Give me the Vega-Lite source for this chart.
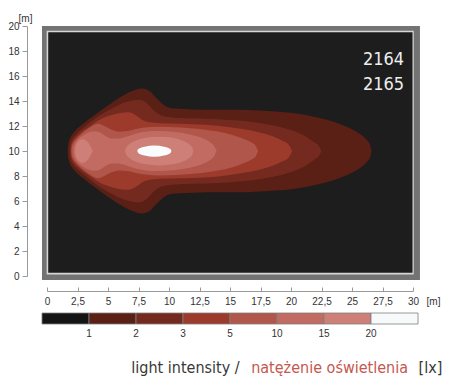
{
"$schema": "https://vega.github.io/schema/vega-lite/v6.json",
"autosize": {"type": "none"},
"padding": {"left": 47, "top": 26, "right": 52, "bottom": 114},
"width": 366,
"height": 250,
"background": "white",
"config": {"view": {"stroke": null},
 "axis": {"labelFont": "Liberation Sans", "labelFontSize": 10, "labelColor": "#333333", "domainColor": "#9a9a9a", "tickColor": "#9a9a9a", "grid": false, "labelOverlap": false, "labelFlush": false, "titleFont": "Liberation Sans", "titleFontSize": 10, "titleFontWeight": "normal", "titleColor": "#333333"},
 "axisX": {"offset": 15, "tickSize": -4, "labelPadding": 9, "titleX": 386, "titleY": 10, "titleAlign": "center", "titleBaseline": "middle"},
 "axisY": {"offset": 20, "tickSize": 5, "labelPadding": 3, "titleAngle": 0, "titleX": -2, "titleY": -8, "titleAlign": "center", "titleBaseline": "middle"}},
"datasets": {
"one": [{}],
"c1": [{"x":1.7,"lo":10,"hi":10},{"x":1.72,"lo":9.6,"hi":10.4},{"x":1.8,"lo":9.2,"hi":10.8},{"x":1.95,"lo":8.85,"hi":11.15},{"x":2.2,"lo":8.5,"hi":11.5},{"x":2.6,"lo":8.1,"hi":11.9},{"x":3.0,"lo":7.8,"hi":12.2},{"x":3.5,"lo":7.4,"hi":12.6},{"x":4.0,"lo":7.05,"hi":12.95},{"x":5.0,"lo":6.35,"hi":13.65},{"x":6.0,"lo":5.7,"hi":14.3},{"x":7.0,"lo":5.2,"hi":14.8},{"x":7.8,"lo":5.0,"hi":15.0},{"x":8.4,"lo":5.2,"hi":14.8},{"x":9.0,"lo":5.8,"hi":14.2},{"x":9.8,"lo":6.45,"hi":13.55},{"x":10.5,"lo":6.6,"hi":13.4},{"x":12,"lo":6.67,"hi":13.33},{"x":14,"lo":6.7,"hi":13.3},{"x":16,"lo":6.7,"hi":13.3},{"x":18,"lo":6.8,"hi":13.2},{"x":20,"lo":6.94,"hi":13.06},{"x":22,"lo":7.28,"hi":12.72},{"x":24,"lo":7.84,"hi":12.16},{"x":25,"lo":8.26,"hi":11.74},{"x":25.8,"lo":8.74,"hi":11.26},{"x":26.2,"lo":9.1,"hi":10.9},{"x":26.5,"lo":9.55,"hi":10.45},{"x":26.6,"lo":10,"hi":10}],
"c2": [{"x":1.85,"lo":10,"hi":10},{"x":1.87,"lo":9.65,"hi":10.35},{"x":1.95,"lo":9.3,"hi":10.7},{"x":2.1,"lo":9.0,"hi":11.0},{"x":2.4,"lo":8.65,"hi":11.35},{"x":2.8,"lo":8.3,"hi":11.7},{"x":3.3,"lo":7.9,"hi":12.1},{"x":4.0,"lo":7.35,"hi":12.65},{"x":5.0,"lo":6.75,"hi":13.25},{"x":6.0,"lo":6.25,"hi":13.75},{"x":7.0,"lo":5.95,"hi":14.05},{"x":7.6,"lo":5.9,"hi":14.1},{"x":8.2,"lo":6.2,"hi":13.8},{"x":8.8,"lo":6.8,"hi":13.2},{"x":9.5,"lo":7.2,"hi":12.8},{"x":10.5,"lo":7.33,"hi":12.67},{"x":12,"lo":7.38,"hi":12.62},{"x":14,"lo":7.45,"hi":12.55},{"x":16,"lo":7.58,"hi":12.42},{"x":18,"lo":7.85,"hi":12.15},{"x":19.5,"lo":8.17,"hi":11.83},{"x":20.5,"lo":8.5,"hi":11.5},{"x":21.3,"lo":8.89,"hi":11.11},{"x":21.9,"lo":9.3,"hi":10.7},{"x":22.3,"lo":9.63,"hi":10.37},{"x":22.5,"lo":10,"hi":10}],
"c3": [{"x":1.95,"lo":10,"hi":10},{"x":1.97,"lo":9.68,"hi":10.32},{"x":2.05,"lo":9.38,"hi":10.62},{"x":2.25,"lo":9.05,"hi":10.95},{"x":2.6,"lo":8.7,"hi":11.3},{"x":3.1,"lo":8.3,"hi":11.7},{"x":3.6,"lo":7.95,"hi":12.05},{"x":4.2,"lo":7.55,"hi":12.45},{"x":5.0,"lo":7.2,"hi":12.8},{"x":6.0,"lo":6.95,"hi":13.05},{"x":6.7,"lo":6.9,"hi":13.1},{"x":7.3,"lo":7.15,"hi":12.85},{"x":7.9,"lo":7.55,"hi":12.45},{"x":8.6,"lo":7.72,"hi":12.28},{"x":10,"lo":7.8,"hi":12.2},{"x":12,"lo":7.85,"hi":12.15},{"x":14,"lo":7.97,"hi":12.03},{"x":16,"lo":8.24,"hi":11.76},{"x":17.5,"lo":8.53,"hi":11.47},{"x":18.5,"lo":8.82,"hi":11.18},{"x":19.3,"lo":9.18,"hi":10.82},{"x":19.8,"lo":9.47,"hi":10.53},{"x":20.1,"lo":10,"hi":10}],
"c5": [{"x":2.0,"lo":10,"hi":10},{"x":2.03,"lo":9.7,"hi":10.3},{"x":2.12,"lo":9.42,"hi":10.58},{"x":2.35,"lo":9.1,"hi":10.9},{"x":2.8,"lo":8.65,"hi":11.35},{"x":3.4,"lo":8.2,"hi":11.8},{"x":3.9,"lo":7.9,"hi":12.1},{"x":4.2,"lo":7.82,"hi":12.18},{"x":4.7,"lo":8.0,"hi":12.0},{"x":5.3,"lo":8.3,"hi":11.7},{"x":5.9,"lo":8.45,"hi":11.55},{"x":6.6,"lo":8.4,"hi":11.6},{"x":7.5,"lo":8.2,"hi":11.8},{"x":9,"lo":8.05,"hi":11.95},{"x":11,"lo":8.11,"hi":11.89},{"x":12.5,"lo":8.23,"hi":11.77},{"x":14,"lo":8.44,"hi":11.56},{"x":15.2,"lo":8.71,"hi":11.29},{"x":16.2,"lo":9.06,"hi":10.94},{"x":16.8,"lo":9.34,"hi":10.66},{"x":17.1,"lo":9.57,"hi":10.43},{"x":17.3,"lo":10,"hi":10}],
"c10": [{"x":2.15,"lo":10,"hi":10},{"x":2.18,"lo":9.7,"hi":10.3},{"x":2.3,"lo":9.38,"hi":10.62},{"x":2.55,"lo":9.05,"hi":10.95},{"x":2.95,"lo":8.75,"hi":11.25},{"x":3.4,"lo":8.52,"hi":11.48},{"x":3.9,"lo":8.42,"hi":11.58},{"x":4.3,"lo":8.5,"hi":11.5},{"x":4.8,"lo":8.8,"hi":11.2},{"x":5.3,"lo":9.0,"hi":11.0},{"x":5.8,"lo":9.0,"hi":11.0},{"x":6.5,"lo":8.85,"hi":11.15},{"x":7.5,"lo":8.55,"hi":11.45},{"x":9,"lo":8.4,"hi":11.6},{"x":10.5,"lo":8.48,"hi":11.52},{"x":11.8,"lo":8.69,"hi":11.31},{"x":12.8,"lo":8.99,"hi":11.01},{"x":13.4,"lo":9.31,"hi":10.69},{"x":13.7,"lo":9.59,"hi":10.41},{"x":13.9,"lo":10,"hi":10}],
"c15": [{"piece":"a","x":2.3,"lo":10,"hi":10},{"piece":"a","x":2.36,"lo":9.6,"hi":10.4},{"piece":"a","x":2.55,"lo":9.25,"hi":10.75},{"piece":"a","x":2.9,"lo":9.05,"hi":10.95},{"piece":"a","x":3.25,"lo":9.2,"hi":10.8},{"piece":"a","x":3.55,"lo":9.6,"hi":10.4},{"piece":"a","x":3.75,"lo":10,"hi":10},{"piece":"b","x":6.4,"lo":10,"hi":10},{"piece":"b","x":6.5,"lo":9.7,"hi":10.3},{"piece":"b","x":6.8,"lo":9.41,"hi":10.59},{"piece":"b","x":7.3,"lo":9.15,"hi":10.85},{"piece":"b","x":8.0,"lo":8.96,"hi":11.04},{"piece":"b","x":9.2,"lo":8.85,"hi":11.15},{"piece":"b","x":10.4,"lo":8.96,"hi":11.04},{"piece":"b","x":11.1,"lo":9.15,"hi":10.85},{"piece":"b","x":11.6,"lo":9.41,"hi":10.59},{"piece":"b","x":11.9,"lo":9.7,"hi":10.3},{"piece":"b","x":12.0,"lo":10,"hi":10}],
"c20": [{"x":7.4,"lo":10,"hi":10},{"x":7.45,"lo":9.88,"hi":10.12},{"x":7.6,"lo":9.77,"hi":10.23},{"x":8.0,"lo":9.65,"hi":10.35},{"x":8.8,"lo":9.55,"hi":10.45},{"x":9.6,"lo":9.65,"hi":10.35},{"x":10.0,"lo":9.77,"hi":10.23},{"x":10.15,"lo":9.88,"hi":10.12},{"x":10.2,"lo":10,"hi":10}],
"legend": [{"upper":"1"},{"upper":"2"},{"upper":"3"},{"upper":"5"},{"upper":"10"},{"upper":"15"},{"upper":"20"},{"upper":"∞"}]
},
"layer": [
{"layer": [
{"data": {"name": "one"}, "mark": {"type": "rect", "fill": "#737373"},
 "encoding": {
  "x": {"datum": -0.41, "type": "quantitative", "scale": {"domain": [0, 30], "nice": false, "zero": false}, "axis": {"values": [0,2.5,5,7.5,10,12.5,15,17.5,20,22.5,25,27.5,30], "labelExpr": "replace(toString(datum.value), '.', ',')", "labelOverlap": false, "title": "[m]"}},
  "x2": {"datum": 30.57},
  "y": {"datum": -0.32, "type": "quantitative", "scale": {"domain": [0, 20], "nice": false, "zero": false}, "axis": {"values": [0,2,4,6,8,10,12,14,16,18,20], "labelOverlap": false, "title": "[m]"}},
  "y2": {"datum": 20}}},
{"data": {"name": "one"}, "mark": {"type": "rect", "fill": "#d6d6d6"},
 "encoding": {
  "x": {"datum": -0.03, "type": "quantitative", "scale": {"domain": [0, 30], "nice": false, "zero": false}, "axis": {"values": [0,2.5,5,7.5,10,12.5,15,17.5,20,22.5,25,27.5,30], "labelExpr": "replace(toString(datum.value), '.', ',')", "labelOverlap": false, "title": "[m]"}},
  "x2": {"datum": 30.06},
  "y": {"datum": 0.12, "type": "quantitative", "scale": {"domain": [0, 20], "nice": false, "zero": false}, "axis": {"values": [0,2,4,6,8,10,12,14,16,18,20], "labelOverlap": false, "title": "[m]"}},
  "y2": {"datum": 19.62}}},
{"data": {"name": "one"}, "mark": {"type": "rect", "fill": "#1d1d1d"},
 "encoding": {
  "x": {"datum": 0.1, "type": "quantitative", "scale": {"domain": [0, 30], "nice": false, "zero": false}, "axis": {"values": [0,2.5,5,7.5,10,12.5,15,17.5,20,22.5,25,27.5,30], "labelExpr": "replace(toString(datum.value), '.', ',')", "labelOverlap": false, "title": "[m]"}},
  "x2": {"datum": 29.96},
  "y": {"datum": 0.26, "type": "quantitative", "scale": {"domain": [0, 20], "nice": false, "zero": false}, "axis": {"values": [0,2,4,6,8,10,12,14,16,18,20], "labelOverlap": false, "title": "[m]"}},
  "y2": {"datum": 19.5}}},
{"data": {"name": "c1"}, "mark": {"type": "area", "interpolate": "monotone", "fill": "#5a1f15"},
 "encoding": {"x": {"field": "x", "type": "quantitative", "scale": {"domain": [0, 30], "nice": false, "zero": false}, "axis": {"values": [0,2.5,5,7.5,10,12.5,15,17.5,20,22.5,25,27.5,30], "labelExpr": "replace(toString(datum.value), '.', ',')", "labelOverlap": false, "title": "[m]"}},
  "y": {"field": "lo", "type": "quantitative", "stack": null, "scale": {"domain": [0, 20], "nice": false, "zero": false}, "axis": {"values": [0,2,4,6,8,10,12,14,16,18,20], "labelOverlap": false, "title": "[m]"}}, "y2": {"field": "hi"}}},
{"data": {"name": "c2"}, "mark": {"type": "area", "interpolate": "monotone", "fill": "#752a1f"},
 "encoding": {"x": {"field": "x", "type": "quantitative", "scale": {"domain": [0, 30], "nice": false, "zero": false}, "axis": {"values": [0,2.5,5,7.5,10,12.5,15,17.5,20,22.5,25,27.5,30], "labelExpr": "replace(toString(datum.value), '.', ',')", "labelOverlap": false, "title": "[m]"}},
  "y": {"field": "lo", "type": "quantitative", "stack": null, "scale": {"domain": [0, 20], "nice": false, "zero": false}, "axis": {"values": [0,2,4,6,8,10,12,14,16,18,20], "labelOverlap": false, "title": "[m]"}}, "y2": {"field": "hi"}}},
{"data": {"name": "c3"}, "mark": {"type": "area", "interpolate": "monotone", "fill": "#9c3a2c"},
 "encoding": {"x": {"field": "x", "type": "quantitative", "scale": {"domain": [0, 30], "nice": false, "zero": false}, "axis": {"values": [0,2.5,5,7.5,10,12.5,15,17.5,20,22.5,25,27.5,30], "labelExpr": "replace(toString(datum.value), '.', ',')", "labelOverlap": false, "title": "[m]"}},
  "y": {"field": "lo", "type": "quantitative", "stack": null, "scale": {"domain": [0, 20], "nice": false, "zero": false}, "axis": {"values": [0,2,4,6,8,10,12,14,16,18,20], "labelOverlap": false, "title": "[m]"}}, "y2": {"field": "hi"}}},
{"data": {"name": "c5"}, "mark": {"type": "area", "interpolate": "monotone", "fill": "#b1564b"},
 "encoding": {"x": {"field": "x", "type": "quantitative", "scale": {"domain": [0, 30], "nice": false, "zero": false}, "axis": {"values": [0,2.5,5,7.5,10,12.5,15,17.5,20,22.5,25,27.5,30], "labelExpr": "replace(toString(datum.value), '.', ',')", "labelOverlap": false, "title": "[m]"}},
  "y": {"field": "lo", "type": "quantitative", "stack": null, "scale": {"domain": [0, 20], "nice": false, "zero": false}, "axis": {"values": [0,2,4,6,8,10,12,14,16,18,20], "labelOverlap": false, "title": "[m]"}}, "y2": {"field": "hi"}}},
{"data": {"name": "c10"}, "mark": {"type": "area", "interpolate": "monotone", "fill": "#c16b62"},
 "encoding": {"x": {"field": "x", "type": "quantitative", "scale": {"domain": [0, 30], "nice": false, "zero": false}, "axis": {"values": [0,2.5,5,7.5,10,12.5,15,17.5,20,22.5,25,27.5,30], "labelExpr": "replace(toString(datum.value), '.', ',')", "labelOverlap": false, "title": "[m]"}},
  "y": {"field": "lo", "type": "quantitative", "stack": null, "scale": {"domain": [0, 20], "nice": false, "zero": false}, "axis": {"values": [0,2,4,6,8,10,12,14,16,18,20], "labelOverlap": false, "title": "[m]"}}, "y2": {"field": "hi"}}},
{"data": {"name": "c15"}, "mark": {"type": "area", "interpolate": "monotone", "fill": "#ce8078"},
 "encoding": {"x": {"field": "x", "type": "quantitative", "scale": {"domain": [0, 30], "nice": false, "zero": false}, "axis": {"values": [0,2.5,5,7.5,10,12.5,15,17.5,20,22.5,25,27.5,30], "labelExpr": "replace(toString(datum.value), '.', ',')", "labelOverlap": false, "title": "[m]"}},
  "y": {"field": "lo", "type": "quantitative", "stack": null, "scale": {"domain": [0, 20], "nice": false, "zero": false}, "axis": {"values": [0,2,4,6,8,10,12,14,16,18,20], "labelOverlap": false, "title": "[m]"}}, "y2": {"field": "hi"},
  "detail": {"field": "piece"}}},
{"data": {"name": "c20"}, "mark": {"type": "area", "interpolate": "monotone", "fill": "#f8fcfc"},
 "encoding": {"x": {"field": "x", "type": "quantitative", "scale": {"domain": [0, 30], "nice": false, "zero": false}, "axis": {"values": [0,2.5,5,7.5,10,12.5,15,17.5,20,22.5,25,27.5,30], "labelExpr": "replace(toString(datum.value), '.', ',')", "labelOverlap": false, "title": "[m]"}},
  "y": {"field": "lo", "type": "quantitative", "stack": null, "scale": {"domain": [0, 20], "nice": false, "zero": false}, "axis": {"values": [0,2,4,6,8,10,12,14,16,18,20], "labelOverlap": false, "title": "[m]"}}, "y2": {"field": "hi"}}},
{"data": {"name": "one"}, "mark": {"type": "text", "font": "DejaVu Sans Condensed", "fontSize": 18, "fill": "#eeeeee", "align": "center", "baseline": "alphabetic"},
 "encoding": {"x": {"datum": 27.58, "type": "quantitative", "scale": {"domain": [0, 30], "nice": false, "zero": false}, "axis": {"values": [0,2.5,5,7.5,10,12.5,15,17.5,20,22.5,25,27.5,30], "labelExpr": "replace(toString(datum.value), '.', ',')", "labelOverlap": false, "title": "[m]"}},
  "y": {"datum": 16.88, "type": "quantitative", "scale": {"domain": [0, 20], "nice": false, "zero": false}, "axis": {"values": [0,2,4,6,8,10,12,14,16,18,20], "labelOverlap": false, "title": "[m]"}},
  "text": {"value": "2164"}}},
{"data": {"name": "one"}, "mark": {"type": "text", "font": "DejaVu Sans Condensed", "fontSize": 18, "fill": "#eeeeee", "align": "center", "baseline": "alphabetic"},
 "encoding": {"x": {"datum": 27.58, "type": "quantitative", "scale": {"domain": [0, 30], "nice": false, "zero": false}, "axis": {"values": [0,2.5,5,7.5,10,12.5,15,17.5,20,22.5,25,27.5,30], "labelExpr": "replace(toString(datum.value), '.', ',')", "labelOverlap": false, "title": "[m]"}},
  "y": {"datum": 14.88, "type": "quantitative", "scale": {"domain": [0, 20], "nice": false, "zero": false}, "axis": {"values": [0,2,4,6,8,10,12,14,16,18,20], "labelOverlap": false, "title": "[m]"}},
  "text": {"value": "2165"}}},
{"data": {"name": "one"}, "mark": {"type": "text", "font": "DejaVu Sans Condensed", "fontSize": 16, "fill": "#383838", "align": "center", "baseline": "alphabetic"},
 "encoding": {"x": {"datum": 11.35, "type": "quantitative", "scale": {"domain": [0, 30], "nice": false, "zero": false}, "axis": {"values": [0,2.5,5,7.5,10,12.5,15,17.5,20,22.5,25,27.5,30], "labelExpr": "replace(toString(datum.value), '.', ',')", "labelOverlap": false, "title": "[m]"}},
  "y": {"datum": -7.76, "type": "quantitative", "scale": {"domain": [0, 20], "nice": false, "zero": false}, "axis": {"values": [0,2,4,6,8,10,12,14,16,18,20], "labelOverlap": false, "title": "[m]"}},
  "text": {"value": "light intensity /"}}},
{"data": {"name": "one"}, "mark": {"type": "text", "font": "DejaVu Sans Condensed", "fontSize": 16, "fill": "#c4574f", "align": "center", "baseline": "alphabetic"},
 "encoding": {"x": {"datum": 23.16, "type": "quantitative", "scale": {"domain": [0, 30], "nice": false, "zero": false}, "axis": {"values": [0,2.5,5,7.5,10,12.5,15,17.5,20,22.5,25,27.5,30], "labelExpr": "replace(toString(datum.value), '.', ',')", "labelOverlap": false, "title": "[m]"}},
  "y": {"datum": -7.76, "type": "quantitative", "scale": {"domain": [0, 20], "nice": false, "zero": false}, "axis": {"values": [0,2,4,6,8,10,12,14,16,18,20], "labelOverlap": false, "title": "[m]"}},
  "text": {"value": "natężenie oświetlenia"}}},
{"data": {"name": "one"}, "mark": {"type": "text", "font": "DejaVu Sans Condensed", "fontSize": 16, "fill": "#383838", "align": "center", "baseline": "alphabetic"},
 "encoding": {"x": {"datum": 31.43, "type": "quantitative", "scale": {"domain": [0, 30], "nice": false, "zero": false}, "axis": {"values": [0,2.5,5,7.5,10,12.5,15,17.5,20,22.5,25,27.5,30], "labelExpr": "replace(toString(datum.value), '.', ',')", "labelOverlap": false, "title": "[m]"}},
  "y": {"datum": -7.76, "type": "quantitative", "scale": {"domain": [0, 20], "nice": false, "zero": false}, "axis": {"values": [0,2,4,6,8,10,12,14,16,18,20], "labelOverlap": false, "title": "[m]"}},
  "text": {"value": "[lx]"}}}
]},
{"data": {"name": "legend"},
 "mark": {"type": "rect", "stroke": "#7d7d7d", "strokeWidth": 0.8},
 "encoding": {
  "x": {"field": "upper", "type": "ordinal", "sort": null, "scale": {"range": [-5, 371], "paddingInner": 0, "paddingOuter": 0},
        "axis": {"orient": "bottom", "offset": 48, "labelOffset": 23.5, "domain": false, "ticks": false, "labelPadding": 4, "labelAngle": 0, "title": null, "labelExpr": "datum.label == '∞' ? '' : datum.label"}},
  "y": {"datum": -2.96, "type": "quantitative", "scale": {"domain": [0, 20], "nice": false, "zero": false}, "axis": null},
  "y2": {"datum": -3.84},
  "fill": {"field": "upper", "type": "ordinal", "sort": null, "scale": {"domain": ["1","2","3","5","10","15","20","∞"], "range": ["#141414","#5a1f15","#752a1f","#9c3a2c","#b1564b","#c16b62","#ce8078","#f6fafa"]}, "legend": null}}}
],
"resolve": {"scale": {"x": "independent", "y": "independent"}}
}
